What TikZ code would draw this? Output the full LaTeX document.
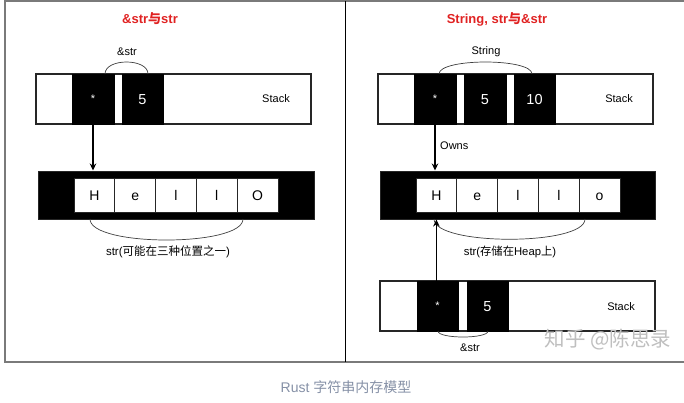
\documentclass[tikz,border=0pt]{standalone}
\usepackage{fontspec}
\usetikzlibrary{arrows.meta}
\setmainfont{Liberation Sans}
\newfontfamily\cjk{Noto Sans CJK SC}
\definecolor{titlered}{HTML}{E02222}
\definecolor{framegray}{HTML}{7A7A7A}
\definecolor{capgray}{HTML}{8590A6}
\begin{document}
\begin{tikzpicture}[x=1pt,y=-1pt,
  stackbox/.style={draw=black!85,line width=1.1pt,fill=white,inner sep=0pt,minimum width=275pt,minimum height=50pt},
  heapbox/.style={draw=black!85,line width=1pt,fill=black,inner sep=0pt,minimum width=276pt,minimum height=48pt},
  blackcell/.style={draw=black,line width=0.6pt,fill=black,text=white,inner sep=0pt,minimum width=41pt,minimum height=50pt,text height=10.5pt,text depth=0pt,font=\fontsize{14.5}{14.5}\selectfont},
  ptrcell/.style={blackcell,text height=,text depth=,font=\fontsize{11}{11}\selectfont},
  lettercell/.style={draw=black!85,line width=0.8pt,fill=white,inner sep=0pt,minimum width=40.8pt,minimum height=34pt,text height=10pt,text depth=0pt,font=\fontsize{14}{14}\selectfont},
  lbl/.style={inner sep=0pt,font=\fontsize{11}{11}\selectfont},
  ttl/.style={inner sep=0pt,text=titlered,font=\fontsize{13}{13}\selectfont\bfseries},
  brace/.style={draw=black!75,line width=0.7pt},
  ptrarrow/.style={draw=black,line width=1.6pt,-{Stealth[length=7pt,width=6.5pt]}}
]
\useasboundingbox (0,0) rectangle (684,402);
% frame
\draw[framegray,line width=1.5pt] (690,1) -- (5,1) -- (5,362) -- (690,362);
\draw[black,line width=0.8pt] (345,1) -- (345,362);

% ---------------- left panel ----------------
\node[ttl] (Ltitle) at (150,19) {\&str{\cjk 与}str};
\node[stackbox] (Lstack) at (173.5,99) {};
\node[ptrcell,minimum width=42pt] (Lptr) at (93,99) {*};
\node[blackcell] (Llen) at (142.5,99) {5};
\node[lbl] (Lstacklbl) at (276,99) {Stack};
\coordinate (La1) at (105,74);
\coordinate (La2) at (148,74);
\draw[brace] (La1) .. controls (105,58) and (148,58) .. (La2);
\node[lbl] (Lref) at (127,52) {\&str};

\node[heapbox] (Lheap) at (176,195) {};
\node[lettercell] (LH) at (94.4,195) {H};
\node[lettercell] (Le) at (135.2,195) {e};
\node[lettercell] (Ll1) at (176,195) {l};
\node[lettercell] (Ll2) at (216.8,195) {l};
\node[lettercell] (LO) at (257.6,195) {O};
\draw[ptrarrow] (Lptr.south) -- (Lptr.south |- Lheap.north);
\coordinate (Lb1) at (90,219);
\coordinate (Lb2) at (243,219);
\draw[brace] (Lb1) .. controls (90,247) and (243,247) .. (Lb2);
\node[lbl,font=\fontsize{11.5}{11.5}\selectfont] (Lstr) at (168,252) {str({\cjk 可能在三种位置之一})};

% ---------------- right panel ----------------
\node[ttl] (Rtitle) at (497,19) {String, str{\cjk 与}\&str};
\node[stackbox] (Rstack) at (515.5,99) {};
\node[ptrcell,minimum width=42pt] (Rptr) at (435,99) {*};
\node[blackcell,minimum width=42pt] (Rlen) at (485,99) {5};
\node[blackcell] (Rcap) at (534.5,99) {10};
\node[lbl] (Rstacklbl) at (619,99) {Stack};
\coordinate (Ra1) at (439,74);
\coordinate (Ra2) at (532,74);
\draw[brace] (Ra1) .. controls (439,58) and (532,58) .. (Ra2);
\node[lbl] (Rstring) at (486,52) {String};

\node[heapbox,minimum width=275pt] (Rheap) at (517.5,195) {};
\node[lettercell] (RH) at (436.4,195) {H};
\node[lettercell] (Re) at (477.2,195) {e};
\node[lettercell] (Rl1) at (518,195) {l};
\node[lettercell] (Rl2) at (558.8,195) {l};
\node[lettercell] (Ro) at (599.6,195) {o};
\draw[ptrarrow] (Rptr.south) -- (Rptr.south |- Rheap.north);
\node[lbl,anchor=west] (Rowns) at (440,146) {Owns};
\coordinate (Rb1) at (434,219);
\coordinate (Rb2) at (585,219);
\draw[brace] (Rb1) .. controls (434,246) and (585,246) .. (Rb2);
\node[lbl,font=\fontsize{11.3}{11.3}\selectfont] (Rstr) at (510,252) {str({\cjk 存储在}Heap{\cjk 上})};

\node[stackbox] (R2stack) at (517.5,306) {};
\node[ptrcell] (R2ptr) at (437.5,306) {*};
\node[blackcell] (R2len) at (487.5,306) {5};
\node[lbl] (R2stacklbl) at (621,307) {Stack};
\draw[ptrarrow] (R2ptr.north -| RH) -- (RH |- Rheap.south);
\coordinate (Rc1) at (438,331);
\coordinate (Rc2) at (488,331);
\draw[brace] (Rc1) .. controls (438,339) and (488,339) .. (Rc2);
\node[lbl] (R2ref) at (470,348) {\&str};

% watermark
\node[inner sep=0pt,text=black!25,font=\cjk\fontsize{20.5}{20.5}\selectfont] (wm) at (608,340) {知乎 @陈思录};

% caption
\node[inner sep=0pt,text=capgray,font=\fontsize{14}{14}\selectfont] (cap) at (346,387) {Rust {\cjk 字符串内存模型}};
\end{tikzpicture}
\end{document}
